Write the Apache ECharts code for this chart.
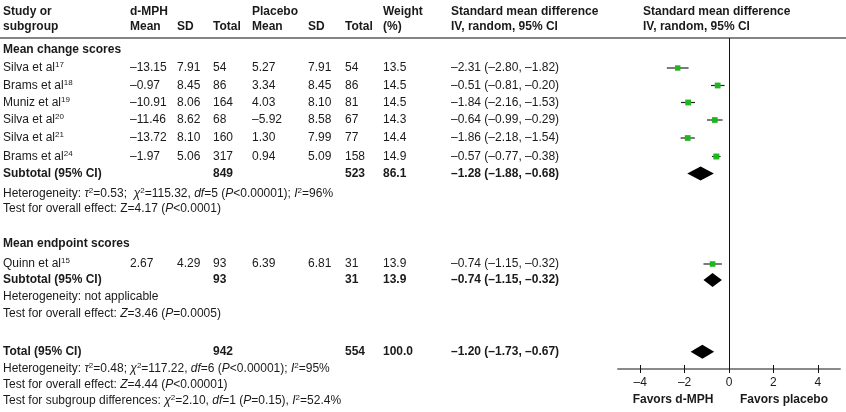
<!DOCTYPE html>
<html>
<head>
<meta charset="utf-8">
<script src="https://cdn.jsdelivr.net/npm/echarts@6/dist/echarts.min.js"></script>
<style>
html, body { margin: 0; padding: 0; background: #fff; }
#main { width: 846px; height: 412px; }
</style>
</head>
<body>
<div id="main"></div>
<script>
// study rows
var studies = ['Silva et al', 'Brams et al', 'Muniz et al', 'Silva et al', 'Silva et al', 'Brams et al', 'Quinn et al'];
var refs = ['17', '18', '19', '20', '21', '24', '15'];
var mphMean = [-13.15, -0.97, -10.91, -11.46, -13.72, -1.97, 2.67];
var mphSD = [7.91, 8.45, 8.06, 8.62, 8.10, 5.06, 4.29];
var mphN = [54, 86, 164, 68, 160, 317, 93];
var plcMean = [5.27, 3.34, 4.03, -5.92, 1.30, 0.94, 6.39];
var plcSD = [7.91, 8.45, 8.10, 8.58, 7.99, 5.09, 6.81];
var plcN = [54, 86, 81, 67, 77, 158, 31];
var weight = [13.5, 14.5, 14.5, 14.3, 14.4, 14.9, 13.9];
var smd = [-2.31, -0.51, -1.84, -0.64, -1.86, -0.57, -0.74];
var ciLo = [-2.80, -0.81, -2.16, -0.99, -2.18, -0.77, -1.15];
var ciHi = [-1.82, -0.20, -1.53, -0.29, -1.54, -0.38, -0.32];

// pooled rows
var pooledLabel = ['Subtotal (95% CI)', 'Subtotal (95% CI)', 'Total (95% CI)'];
var pooledN1 = [849, 93, 942];
var pooledN2 = [523, 31, 554];
var pooledW = [86.1, 13.9, 100.0];
var pooledSmd = [-1.28, -0.74, -1.20];
var pooledLo = [-1.88, -1.15, -1.73];
var pooledHi = [-0.68, -0.32, -0.67];

var xTicks = [-4, -2, 0, 2, 4];

var statLines = [
  'Heterogeneity: {i|τ}{sup|2}=0.53;  {i|χ}{sup|2}=115.32, {i|df}=5 ({i|P}<0.00001); {i|I}{sup|2}=96%',
  'Test for overall effect: Z=4.17 ({i|P}<0.0001)',
  'Heterogeneity: not applicable',
  'Test for overall effect: {i|Z}=3.46 ({i|P}=0.0005)',
  'Heterogeneity: {i|τ}{sup|2}=0.48; {i|χ}{sup|2}=117.22, {i|df}=6 ({i|P}<0.00001); {i|I}{sup|2}=95%',
  'Test for overall effect: {i|Z}=4.44 ({i|P}<0.00001)',
  'Test for subgroup differences: {i|χ}{sup|2}=2.10, {i|df}=1 ({i|P}=0.15), {i|I}{sup|2}=52.4%'
];

// layout
var colX = [3, 130, 177, 213, 252, 308, 345, 383, 451];
var studyY = [68, 85.5, 102.5, 120, 138, 156.5, 264];
var pooledY = [173.5, 280, 351.7];
var statY = [193.3, 209, 296.7, 313.3, 368.5, 385, 401];

var FAM = '"Liberation Sans", Arial, Helvetica, sans-serif';
var F = '12px ' + FAM;
var FB = 'bold 12px ' + FAM;
var INK = '#1a1a1a';
var rich = {
  sup: { font: '8px ' + FAM, fill: INK, verticalAlign: 'top', lineHeight: 9 },
  i: { font: 'italic 12px ' + FAM, fill: INK, lineHeight: 14 }
};

function fmt(v, d) {
  var s = Math.abs(v).toFixed(d);
  return v < 0 ? '–' + s : s;
}
function ciText(e, l, h) {
  return fmt(e, 2) + ' (' + fmt(l, 2) + ', ' + fmt(h, 2) + ')';
}
function txt(x, y, s, font, align) {
  return {
    type: 'text', x: x, y: y, silent: true,
    style: { text: s, font: font || F, fill: INK, align: align || 'left', verticalAlign: 'middle', lineHeight: 14, rich: rich }
  };
}

var g = [];
g.push({ type: 'line', shape: { x1: 0, y1: 38, x2: 846, y2: 38 }, style: { stroke: '#858585', lineWidth: 2 } });
// headers
g.push(txt(colX[0], 11.5, 'Study or', FB), txt(colX[0], 26.5, 'subgroup', FB));
g.push(txt(colX[1], 11.5, 'd-MPH', FB), txt(colX[1], 26.5, 'Mean', FB));
g.push(txt(colX[2], 26.5, 'SD', FB), txt(colX[3], 26.5, 'Total', FB));
g.push(txt(colX[4], 11.5, 'Placebo', FB), txt(colX[4], 26.5, 'Mean', FB));
g.push(txt(colX[5], 26.5, 'SD', FB), txt(colX[6], 26.5, 'Total', FB));
g.push(txt(colX[7], 11.5, 'Weight', FB), txt(colX[7], 26.5, '(%)', FB));
g.push(txt(colX[8], 11.5, 'Standard mean difference', FB), txt(colX[8], 26.5, 'IV, random, 95% CI', FB));
g.push(txt(643, 11.5, 'Standard mean difference', FB), txt(643, 26.5, 'IV, random, 95% CI', FB));
g.push(txt(colX[0], 49.5, 'Mean change scores', FB), txt(colX[0], 243.3, 'Mean endpoint scores', FB));

studies.forEach(function (s, i) {
  var y = studyY[i];
  g.push(txt(colX[0], y, s + '{sup|' + refs[i] + '}'));
  g.push(txt(colX[1], y, fmt(mphMean[i], 2)));
  g.push(txt(colX[2], y, fmt(mphSD[i], 2)));
  g.push(txt(colX[3], y, String(mphN[i])));
  g.push(txt(colX[4], y, fmt(plcMean[i], 2)));
  g.push(txt(colX[5], y, fmt(plcSD[i], 2)));
  g.push(txt(colX[6], y, String(plcN[i])));
  g.push(txt(colX[7], y, fmt(weight[i], 1)));
  g.push(txt(colX[8], y, ciText(smd[i], ciLo[i], ciHi[i])));
});
pooledLabel.forEach(function (s, i) {
  var y = pooledY[i];
  g.push(txt(colX[0], y, s, FB));
  g.push(txt(colX[3], y, String(pooledN1[i]), FB));
  g.push(txt(colX[6], y, String(pooledN2[i]), FB));
  g.push(txt(colX[7], y, fmt(pooledW[i], 1), FB));
  g.push(txt(colX[8], y, ciText(pooledSmd[i], pooledLo[i], pooledHi[i]), FB));
});
statLines.forEach(function (s, i) {
  g.push(txt(colX[0], statY[i], s));
});
g.push(txt(673, 400, 'Favors d-MPH', FB, 'center'), txt(784, 400, 'Favors placebo', FB, 'center'));

var studyData = smd.map(function (v, i) { return [v, ciLo[i], ciHi[i], studyY[i], weight[i]]; });
var pooledData = pooledSmd.map(function (v, i) { return [v, pooledLo[i], pooledHi[i], pooledY[i]]; });

var myChart = echarts.init(document.getElementById('main'));
var option = {
  animation: false,
  grid: { left: 618, right: 6, top: 38, bottom: 43 },
  xAxis: [
    {
      type: 'value', min: -5, max: 5,
      splitLine: { show: false },
      axisLine: { onZero: false, lineStyle: { color: '#8a8a8a', width: 2 } },
      axisTick: { customValues: xTicks, length: 4, lineStyle: { color: '#111', width: 1 } },
      axisLabel: {
        customValues: xTicks, margin: 8, color: INK, fontSize: 12, fontFamily: FAM,
        formatter: function (v) { return fmt(v, 0); }
      }
    },
    {
      type: 'value', min: -5, max: 5, position: 'bottom',
      splitLine: { show: false },
      axisLine: { show: false, onZero: false },
      axisTick: { inside: true, customValues: xTicks, length: 4, lineStyle: { color: '#111', width: 1 } },
      axisLabel: { show: false }
    }
  ],
  yAxis: { type: 'value', min: 38, max: 369, inverse: true, show: false },
  series: [
    {
      type: 'custom',
      data: studyData,
      encode: { x: [0, 1, 2], y: 3 },
      renderItem: function (params, api) {
        var y = api.value(3);
        var p = api.coord([api.value(0), y]);
        var a = api.coord([api.value(1), y]);
        var b = api.coord([api.value(2), y]);
        var s = api.value(4) * 0.4;
        return {
          type: 'group',
          children: [
            { type: 'line', shape: { x1: a[0], y1: a[1], x2: b[0], y2: b[1] }, style: { stroke: '#222', lineWidth: 1.2 } },
            { type: 'rect', shape: { x: p[0] - s / 2, y: p[1] - s / 2, width: s, height: s }, style: { fill: '#22b522' } }
          ]
        };
      },
      markLine: {
        silent: true, symbol: 'none', label: { show: false },
        lineStyle: { color: '#111', width: 1, type: 'solid' },
        data: [{ xAxis: 0 }]
      }
    },
    {
      type: 'custom',
      data: pooledData,
      encode: { x: [0, 1, 2], y: 3 },
      renderItem: function (params, api) {
        var y = api.value(3);
        var p = api.coord([api.value(0), y]);
        var a = api.coord([api.value(1), y]);
        var b = api.coord([api.value(2), y]);
        return {
          type: 'polygon',
          shape: { points: [[a[0], a[1]], [p[0], p[1] - 7], [b[0], b[1]], [p[0], p[1] + 7]] },
          style: { fill: '#000' }
        };
      }
    }
  ],
  graphic: g
};
myChart.setOption(option);
window.onresize = function () { myChart.resize(); };
</script>
</body>
</html>
